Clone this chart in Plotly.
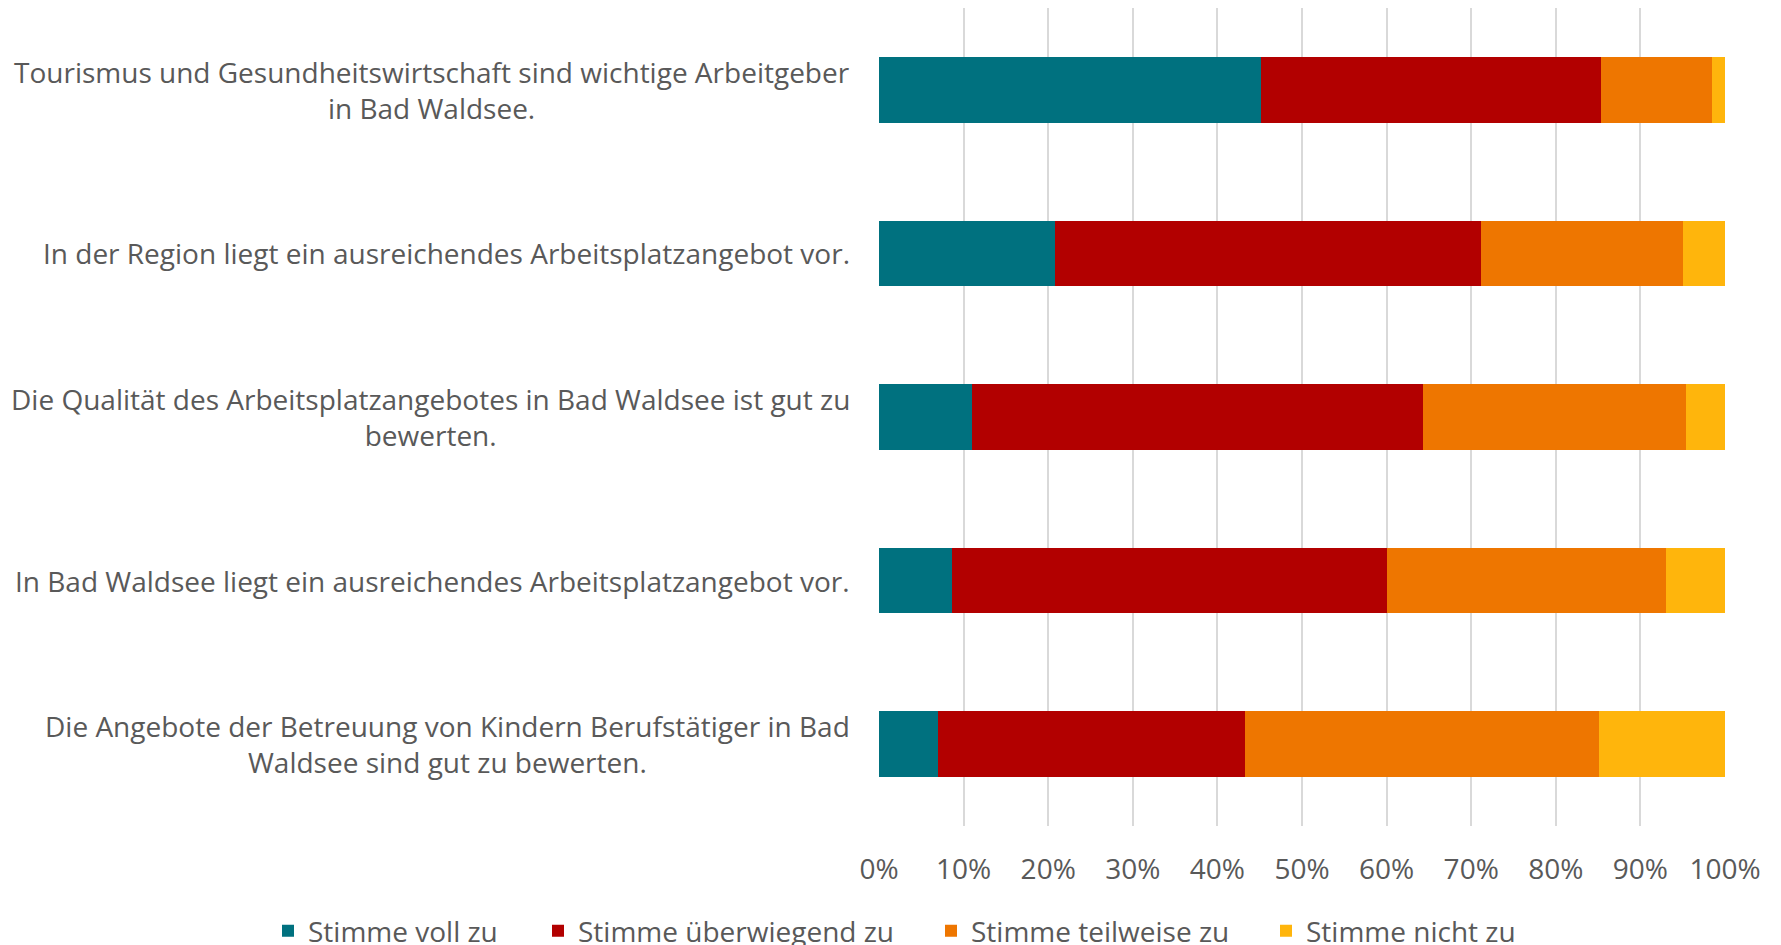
import plotly.graph_objects as go

# -------------------------------------------------
# Data (shares in %)
# -------------------------------------------------

statements = [
    "Tourismus und Gesundheitswirtschaft sind wichtige Arbeitgeber<br>in Bad Waldsee.",
    "In der Region liegt ein ausreichendes Arbeitsplatzangebot vor.",
    "Die Qualität des Arbeitsplatzangebotes in Bad Waldsee ist gut zu<br>bewerten.",
    "In Bad Waldsee liegt ein ausreichendes Arbeitsplatzangebot vor.",
    "Die Angebote der Betreuung von Kindern Berufstätiger in Bad<br>Waldsee sind gut zu bewerten.",
]

voll_zu = [45.1, 20.8, 11.0, 8.6, 7.0]
ueberwiegend_zu = [40.2, 50.4, 53.3, 51.5, 36.3]
teilweise_zu = [13.2, 23.8, 31.1, 32.9, 41.8]
nicht_zu = [1.5, 5.0, 4.6, 7.0, 14.9]

series_names = [
    "Stimme voll zu",
    "Stimme überwiegend zu",
    "Stimme teilweise zu",
    "Stimme nicht zu",
]
series_values = [voll_zu, ueberwiegend_zu, teilweise_zu, nicht_zu]
series_colors = ["#00717F", "#B20000", "#EE7600", "#FFB50C"]

tick_vals = [0, 10, 20, 30, 40, 50, 60, 70, 80, 90, 100]
tick_text = [f"{v}%" for v in tick_vals]

FONT = "Open Sans"
SIZE = 28
GREY = "#595959"

# page body has an 8px margin, so the figure is a bit smaller than the window
W, H = 1773, 937
ML, MR, MT, MB = 871, 56, 0, 119
plot_w = W - ML - MR

# -------------------------------------------------
# Figure
# -------------------------------------------------

fig = go.Figure()

legend_ids = ["legend", "legend2", "legend3", "legend4"]

for name, vals, col, lg in zip(series_names, series_values, series_colors, legend_ids):
    fig.add_trace(go.Bar(
        y=statements,
        x=vals,
        name=name,
        orientation="h",
        marker=dict(color=col, line=dict(width=0)),
        hoverinfo="x+name",
        legend=lg,
    ))

# category labels, centered lines, right edge next to the plot
for s in statements:
    fig.add_annotation(
        x=0, xref="paper", xanchor="right", xshift=-27,
        y=s, yref="y", yanchor="middle",
        text=s, showarrow=False, align="center",
        font=dict(family=FONT, size=SIZE, color=GREY),
    )

# one legend per series so each entry sits where the reference has it
legend_left_px = [260, 530, 923, 1258]


def legend_box(left_px):
    return dict(
        orientation="h",
        xref="paper", x=(left_px - ML) / plot_w, xanchor="left",
        yref="paper", y=-0.098, yanchor="top",
        font=dict(family=FONT, size=SIZE, color=GREY),
        bgcolor="rgba(0,0,0,0)",
    )


fig.update_layout(
    width=W,
    height=H,
    barmode="stack",
    bargap=0.6,
    plot_bgcolor="white",
    paper_bgcolor="white",
    margin=dict(l=ML, r=MR, t=MT, b=MB, autoexpand=False),
    font=dict(family=FONT, size=SIZE, color=GREY),
    legend=legend_box(legend_left_px[0]),
    legend2=legend_box(legend_left_px[1]),
    legend3=legend_box(legend_left_px[2]),
    legend4=legend_box(legend_left_px[3]),
    showlegend=True,
)

fig.update_xaxes(
    range=[0, 100],
    tickvals=tick_vals,
    ticktext=tick_text,
    showgrid=True,
    gridcolor="#D9D9D9",
    gridwidth=1.5,
    zeroline=False,
    showline=False,
    ticklabelstandoff=24,
    tickfont=dict(family=FONT, size=SIZE, color=GREY),
)

fig.update_yaxes(
    autorange="reversed",
    showticklabels=False,
    showgrid=False,
    zeroline=False,
)

fig.write_html("out.html")
